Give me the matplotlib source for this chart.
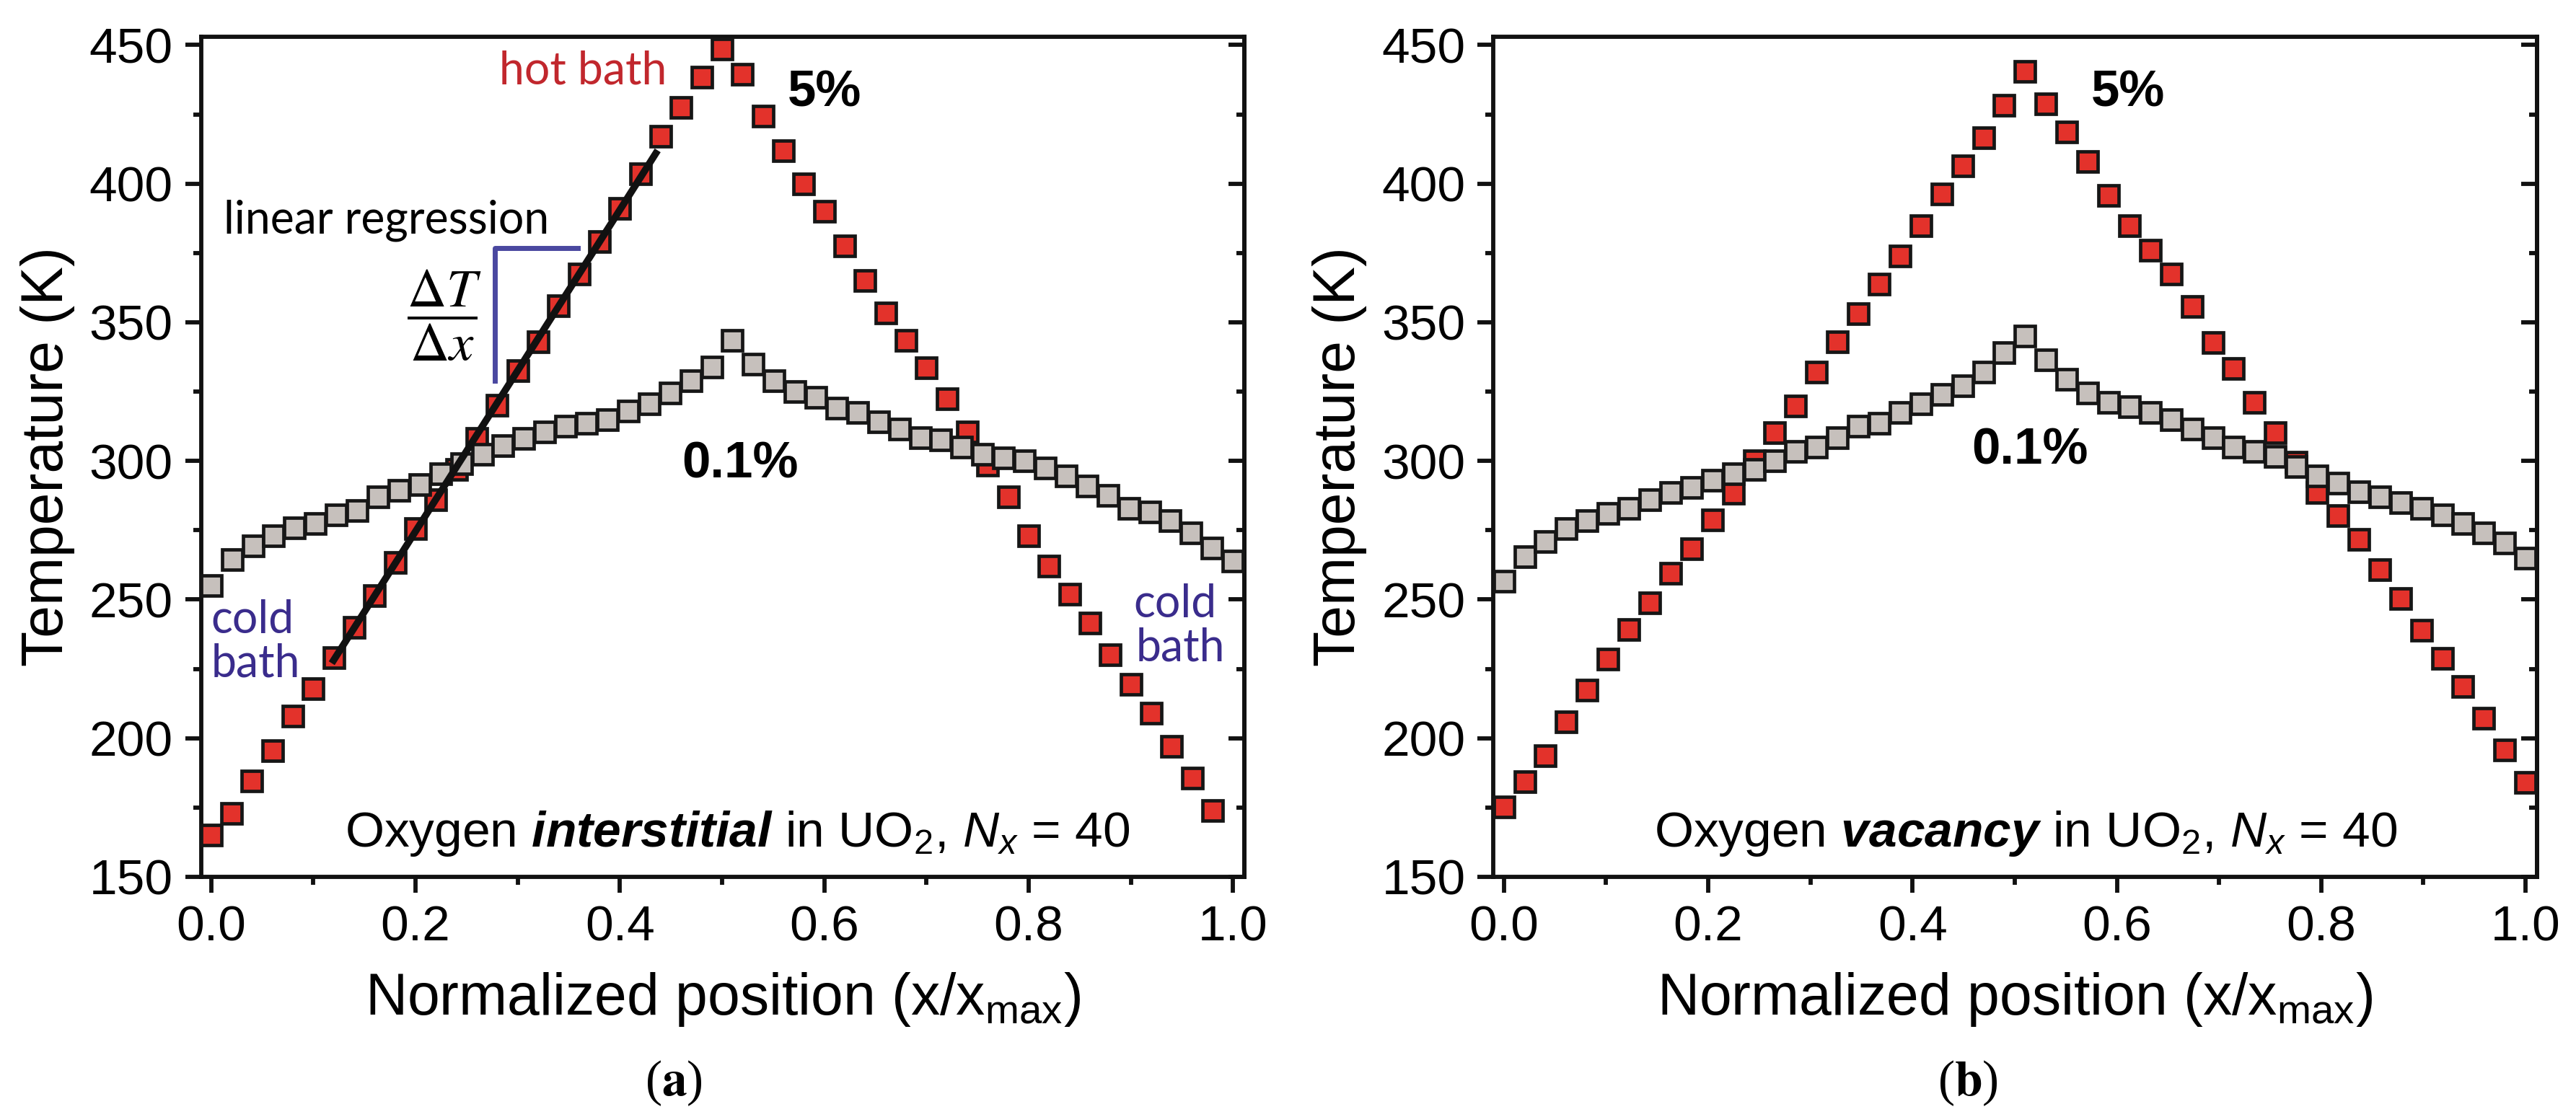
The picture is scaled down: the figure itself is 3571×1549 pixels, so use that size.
import numpy as np
from matplotlib import pyplot as plt
from matplotlib.ticker import MultipleLocator

plt.rcParams['font.family'] = 'Liberation Sans'
plt.rcParams['mathtext.fontset'] = 'custom'
plt.rcParams['mathtext.rm'] = 'Liberation Sans'
plt.rcParams['mathtext.it'] = 'Liberation Sans:italic'
plt.rcParams['mathtext.bf'] = 'Liberation Sans:bold'
plt.rcParams['mathtext.bfit'] = 'Liberation Sans:bold:italic'

# positions (x / x_max)
x_red_a = np.arange(50) * 0.02          # 0.00 ... 0.98
x_gray = np.linspace(0, 1, 50)          # 0.0 ... 1.0
x_red_b = np.linspace(0, 1, 50)

# (a) oxygen interstitial
red_a = [165, 173, 184.5, 195.5, 208, 218, 229, 240, 251.5, 263.5,
         275.5, 286, 297, 308, 320, 332.5, 343, 356, 367.5, 379,
         391, 403.5, 417, 427.5, 438.5, 448.5, 439.5, 424.5, 412, 400,
         390, 377.5, 365, 353.5, 343.5, 333.5, 322.5, 310.5, 298.5, 287,
         273, 262, 252, 241.5, 230, 219.5, 209, 197, 185.5, 174]
gray_a = [255, 264.5, 269.5, 273, 276, 277.5, 280.5, 282, 287, 289.5,
          291.5, 295.5, 299, 302.5, 305.5, 308, 310.5, 312.5, 313.5, 315,
          318, 320.5, 324.5, 329, 334, 343.5, 335, 329, 325, 323,
          319, 317.5, 314, 311.5, 308.5, 307.5, 305, 302.5, 301, 300,
          297.5, 294.5, 291, 287.5, 283, 281.5, 278.5, 274, 268.5, 264]

# (b) oxygen vacancy
red_b = [175.3, 184.3, 193.8, 206, 217.4, 228.5, 239.2, 248.8, 259.5, 268.4,
         278.7, 288.4, 300, 310.2, 319.7, 332, 343, 353.1, 363.8, 374,
         384.8, 396.3, 406.5, 416.7, 428.3, 440.4, 428.8, 418.7, 407.9, 395.8,
         384.9, 376.1, 367.3, 355.7, 342.7, 333.4, 321.1, 310.2, 299.5, 288.5,
         280.4, 271.7, 260.7, 250.5, 239, 228.8, 218.6, 207.3, 195.7, 184.1]
gray_b = [256.5, 265.5, 271, 275.5, 278.5, 281, 283, 286, 288.5, 290.5,
          293, 295.5, 297, 300, 303.5, 305, 308.5, 312.5, 313.5, 317.5,
          320.5, 324, 327, 332, 339, 345, 336.5, 329.5, 324.5, 321,
          319.5, 317.5, 315, 311.5, 308.5, 305, 303.5, 301.5, 298, 294.5,
          292, 289, 287, 285, 283, 280.5, 277.5, 274, 270.5, 265]

fit_range = (6, 22)          # red points used for the linear regression
fit_x_span = (0.118, 0.437)

RED = '#e3322b'
GRAY = '#c6c0bc'
EDGE = '#161616'
BLUE = '#4a48a0'
BATH_BLUE = '#3a2c8c'
HOT = '#c1272d'
LW = 4.2

fig = plt.figure(figsize=(35.71, 15.49), dpi=100)


def panel(rect, xr, yr, xg, yg, title_word, pct5, pct01, oxy_x):
    ax = fig.add_axes(rect)
    ax.plot(xr, yr, ls='none', marker='s', ms=20.5, mfc=RED, mec=EDGE, mew=3.4, zorder=3, clip_on=False)
    ax.plot(xg, yg, ls='none', marker='s', ms=20.5, mfc=GRAY, mec=EDGE, mew=3.4, zorder=4, clip_on=False)
    ax.set_xlim(-0.01, 1.011)
    ax.set_ylim(150, 453)
    ax.xaxis.set_major_locator(MultipleLocator(0.2))
    ax.xaxis.set_minor_locator(MultipleLocator(0.1))
    ax.yaxis.set_major_locator(MultipleLocator(50))
    ax.yaxis.set_minor_locator(MultipleLocator(25))
    ax.xaxis.set_major_formatter(lambda v, p: '%.1f' % v)
    for s in ax.spines.values():
        s.set_linewidth(LW)
        s.set_color('#111111')
    ax.tick_params(which='both', direction='out', width=LW, top=False, right=False,
                   labelsize=50, color='#111111')
    ax.tick_params(which='major', length=16)
    ax.tick_params(which='minor', length=8)
    ax.tick_params(axis='y', pad=12)
    ax.tick_params(axis='x', pad=12)
    sec = ax.secondary_yaxis('right')
    sec.yaxis.set_major_locator(MultipleLocator(50))
    sec.yaxis.set_minor_locator(MultipleLocator(25))
    sec.spines['right'].set_linewidth(LW)
    sec.spines['right'].set_color('#111111')
    sec.tick_params(which='both', direction='in', width=LW, labelright=False, color='#111111')
    sec.tick_params(which='major', length=16)
    sec.tick_params(which='minor', length=8)

    ax.set_ylabel('Temperature (K)', fontsize=58)
    ax.yaxis.set_label_coords(-0.121, 0.5)
    ax.set_xlabel(r'Normalized position (x/x$_{\mathrm{max}}$)', fontsize=58)
    ax.xaxis.set_label_coords(0.5, -0.112)

    ax.text(pct5[0], pct5[1], '5%', fontsize=51, fontweight='bold', va='baseline')
    ax.text(pct01[0], pct01[1], '0.1%', fontsize=51, fontweight='bold', va='baseline')
    ax.text(oxy_x, 161, r'Oxygen $\mathbfit{' + title_word + r'}$ in UO$_2$, $N_x$ = 40',
            fontsize=50, ha='center', va='baseline')
    return ax


ax_a = panel([0.0780, 0.2150, 0.405, 0.7521], x_red_a, red_a, x_gray, gray_a,
             'interstitial', (0.564, 428), (0.461, 294), 0.515)
ax_b = panel([0.5798, 0.2150, 0.405, 0.7521], x_red_b, red_b, x_gray, gray_b,
             'vacancy', (0.575, 428), (0.458, 299), 0.511)

# linear regression on the rising side of the 5% profile
i0, i1 = fit_range
k, b = np.polyfit(x_red_a[i0:i1], red_a[i0:i1], 1)
xf = np.array(fit_x_span)
ax_a.plot(xf, k * xf + b, color='#111111', lw=7, zorder=6, solid_capstyle='butt')

ax_a.plot([0.278, 0.278, 0.359], [329, 376.7, 376.7], color=BLUE, lw=5, zorder=5)
ax_a.text(0.012, 382, 'linear regression', fontsize=45, fontfamily='Lato', va='baseline')
ax_a.text(0.228, 352.5, r'$\dfrac{\Delta T}{\Delta x}$', fontsize=54, math_fontfamily='stix',
          ha='center', va='center')
ax_a.text(0.282, 436, 'hot bath', fontsize=45, fontfamily='Lato', color=HOT, va='baseline')
ax_a.text(0.0, 237.8, 'cold', fontsize=45, fontfamily='Lato', color=BATH_BLUE, va='baseline')
ax_a.text(0.0, 222.2, 'bath', fontsize=45, fontfamily='Lato', color=BATH_BLUE, va='baseline')
ax_a.text(0.903, 243.6, 'cold', fontsize=45, fontfamily='Lato', color=BATH_BLUE, va='baseline')
ax_a.text(0.905, 228, 'bath', fontsize=45, fontfamily='Lato', color=BATH_BLUE, va='baseline')

fig.text(0.2615, 0.019, r'($\mathbf{a}$)', fontsize=50, fontfamily='Liberation Serif',
         math_fontfamily='stix', ha='center', va='baseline')
fig.text(0.764, 0.019, r'($\mathbf{b}$)', fontsize=50, fontfamily='Liberation Serif',
         math_fontfamily='stix', ha='center', va='baseline')

fig.savefig('out.png', dpi=100)
